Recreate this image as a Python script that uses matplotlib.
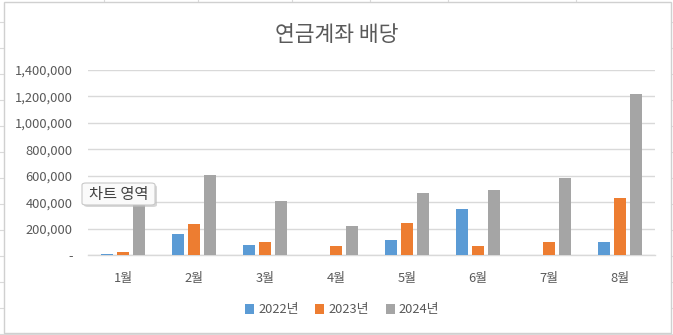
import matplotlib
matplotlib.use('Agg')
import numpy as np
from matplotlib import pyplot as plt
from matplotlib.patches import Rectangle, FancyBboxPatch
from matplotlib.ticker import FuncFormatter

plt.rcParams['font.family'] = ['Noto Sans CJK KR', 'DejaVu Sans']

# monthly dividends per year
months = ['1월', '2월', '3월', '4월', '5월', '6월', '7월', '8월']
years = ['2022년', '2023년', '2024년']
div_2022 = [8000, 159000, 76000, 0, 114000, 348000, 0, 98000]
div_2023 = [22000, 235000, 98000, 68000, 242000, 68000, 98000, 432000]
div_2024 = [450000, 606000, 409000, 220000, 470000, 492000, 583000, 1220000]
y_ticks = [0, 200000, 400000, 600000, 800000, 1000000, 1200000, 1400000]

colors = ['#5B9BD5', '#ED7D31', '#A5A5A5']
text_gray = '#595959'
grid_gray = '#D9D9D9'

W, H = 673, 335
fig = plt.figure(figsize=(W / 100, H / 100), dpi=100)
fig.patch.set_facecolor('white')


def px(x, y):
    """pixel coords (top-left origin) -> figure fraction"""
    return x / W, 1 - y / H


# spreadsheet cell grid behind the chart
for gx in [104, 198, 292, 370, 448, 576]:
    fig.add_artist(plt.Line2D([gx / W, gx / W], [0, 1], transform=fig.transFigure,
                              color='#DADADA', lw=0.8, zorder=0))
for gy in range(22, 335, 26):
    fig.add_artist(plt.Line2D([0, 1], [1 - gy / H, 1 - gy / H], transform=fig.transFigure,
                              color='#DADADA', lw=0.8, zorder=0))

# chart area
x0, y0 = px(4, 333)
fig.add_artist(Rectangle((x0, y0), 667 / W, 331 / H, transform=fig.transFigure,
                         facecolor='white', edgecolor='#D0D0D0', lw=1.0, zorder=1))

ax = fig.add_axes([88 / W, 80 / H, 567 / W, 185 / H], zorder=2)
ax.set_facecolor('none')

x = np.arange(len(months))
width = 0.17
step = 0.226
for i, (vals, color, label) in enumerate(zip([div_2022, div_2023, div_2024], colors, years)):
    ax.bar(x + (i - 1) * step, vals, width=width, color=color, label=label, zorder=3)

ax.set_xlim(-0.5, len(months) - 0.5)
ax.set_ylim(0, 1400000)
ax.set_yticks(y_ticks)
ax.yaxis.set_major_formatter(FuncFormatter(lambda v, _: '-' if v == 0 else f'{int(v):,}'))
ax.set_xticks(x)
ax.set_xticklabels(months)
ax.tick_params(axis='both', length=0, labelsize=9.3, colors=text_gray)
ax.tick_params(axis='x', pad=12)
ax.tick_params(axis='y', pad=11)
ax.grid(axis='y', color=grid_gray, lw=1.0, zorder=0)
for side in ['top', 'right', 'left']:
    ax.spines[side].set_visible(False)
ax.spines['bottom'].set_color(grid_gray)
ax.spines['bottom'].set_linewidth(1.0)

fig.text(337 / W, 1 - 35 / H, '연금계좌 배당', ha='center', va='center',
         fontsize=15.5, color=text_gray)

leg = fig.legend(loc='center', bbox_to_anchor=(342 / W, 1 - 310 / H), ncol=3,
                 frameon=False, fontsize=9.3, handlelength=0.7, handleheight=0.7,
                 handletextpad=0.3, columnspacing=1.3)
for t in leg.get_texts():
    t.set_color(text_gray)

# hover tooltip over the chart area
bx, by = px(82, 205)
fig.add_artist(FancyBboxPatch((bx + 2 / W, by - 2 / H), 73 / W, 22 / H,
                              boxstyle='round,pad=0,rounding_size=0.006',
                              transform=fig.transFigure, facecolor='#BDBDBD',
                              edgecolor='none', alpha=0.6, zorder=5))
fig.add_artist(FancyBboxPatch((bx, by), 73 / W, 22 / H,
                              boxstyle='round,pad=0,rounding_size=0.006',
                              transform=fig.transFigure, facecolor='#FAFAFA',
                              edgecolor='#C8C8C8', lw=0.8, zorder=6))
fig.text(118.5 / W, 1 - 194 / H, '차트 영역', ha='center', va='center',
         fontsize=11, color='#404040', zorder=7)

fig.savefig('out.png', dpi=100)
